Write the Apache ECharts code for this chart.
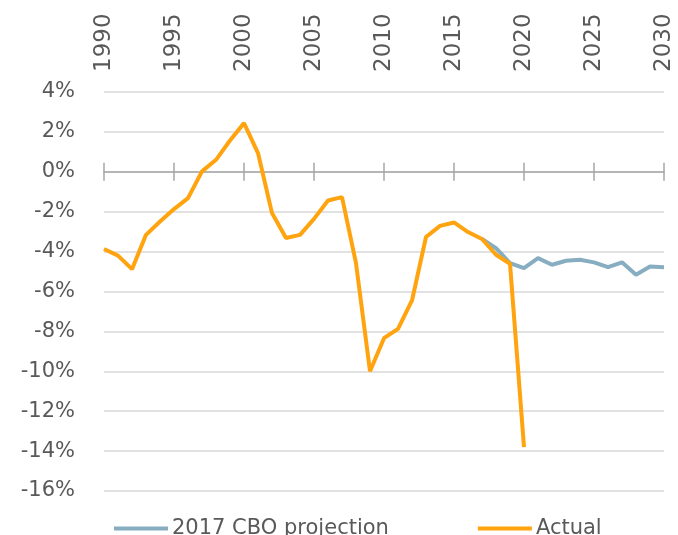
<!DOCTYPE html>
<html>
<head>
<meta charset="utf-8">
<script src="https://cdn.jsdelivr.net/npm/echarts@6/dist/echarts.min.js"></script>
<style>
  html, body { margin: 0; padding: 0; background: #fff; }
  #chart { width: 678px; height: 535px; }
</style>
</head>
<body>
<div id="chart"></div>
<script>
// 数据
const actualYears = [1990, 1991, 1992, 1993, 1994, 1995, 1996, 1997, 1998, 1999, 2000,
  2001, 2002, 2003, 2004, 2005, 2006, 2007, 2008, 2009, 2010,
  2011, 2012, 2013, 2014, 2015, 2016, 2017, 2018, 2019, 2020]
const actualValues = [-3.87, -4.2, -4.88, -3.16, -2.49, -1.87, -1.32, 0.02, 0.6, 1.57, 2.44,
  0.94, -2.07, -3.32, -3.16, -2.36, -1.44, -1.27, -4.58, -10.0, -8.34,
  -7.87, -6.45, -3.27, -2.71, -2.54, -3.02, -3.37, -4.16, -4.61, -13.8]
const projYears = [2017, 2018, 2019, 2020, 2021, 2022, 2023, 2024, 2025, 2026, 2027, 2028, 2029, 2030]
const projValues = [-3.37, -3.83, -4.58, -4.83, -4.33, -4.66, -4.46, -4.41, -4.54, -4.78, -4.54, -5.16, -4.75, -4.78]

const fontFamily = 'DejaVu Sans'
const textColor = '#595959'
const axisGrey = '#A6A6A6'

const chart = echarts.init(document.getElementById('chart'))

const baseX = {
    type: 'value',
    min: 1990,
    max: 2030,
    interval: 5,
    splitLine: { show: false }
}

const option = {
    animation: false,
    grid: {
        left: 104,
        right: 14,
        top: 92,
        bottom: 44
    },
    legend: {
        left: 109,
        top: 513,
        itemWidth: 54,
        itemHeight: 4,
        itemGap: 89,
        icon: 'rect',
        textStyle: { fontFamily: fontFamily, fontSize: 21, color: textColor, padding: [0, 0, 0, -1] },
        data: ['2017 CBO projection', 'Actual']
    },
    xAxis: [
        // 顶部年份标签
        Object.assign({}, baseX, {
            position: 'top',
            axisLine: { show: false, onZero: false },
            axisTick: { show: false },
            axisLabel: {
                rotate: -90,
                margin: 20,
                fontFamily: fontFamily,
                fontSize: 23,
                color: textColor,
                formatter: v => String(v)
            }
        }),
        // 0% 处的轴线，刻度向上
        Object.assign({}, baseX, {
            position: 'top',
            axisLine: { show: true, onZero: true, onZeroAxisIndex: 0, lineStyle: { color: axisGrey, width: 1.5 } },
            axisTick: { show: true, inside: false, length: 9, lineStyle: { color: axisGrey, width: 1.5 } },
            axisLabel: { show: false }
        }),
        // 刻度向下
        Object.assign({}, baseX, {
            position: 'bottom',
            axisLine: { show: false, onZero: true, onZeroAxisIndex: 0 },
            axisTick: { show: true, inside: false, length: 9, lineStyle: { color: axisGrey, width: 1.5 } },
            axisLabel: { show: false }
        })
    ],
    yAxis: {
        type: 'value',
        min: -16,
        max: 4,
        interval: 2,
        axisLine: { show: false },
        axisTick: { show: false },
        splitLine: { lineStyle: { color: '#D9D9D9', width: 1.5 } },
        axisLabel: {
            formatter: '{value}%',
            margin: 29,
            fontFamily: fontFamily,
            fontSize: 21,
            color: textColor
        }
    },
    series: [
        {
            name: '2017 CBO projection',
            type: 'line',
            xAxisIndex: 0,
            data: projYears.map((y, i) => [y, projValues[i]]),
            showSymbol: false,
            lineStyle: { color: '#87AEC0', width: 4 },
            itemStyle: { color: '#87AEC0' }
        },
        {
            name: 'Actual',
            type: 'line',
            xAxisIndex: 0,
            data: actualYears.map((y, i) => [y, actualValues[i]]),
            showSymbol: false,
            lineStyle: { color: '#FFA30F', width: 4 },
            itemStyle: { color: '#FFA30F' }
        }
    ]
}

chart.setOption(option)
</script>
</body>
</html>
